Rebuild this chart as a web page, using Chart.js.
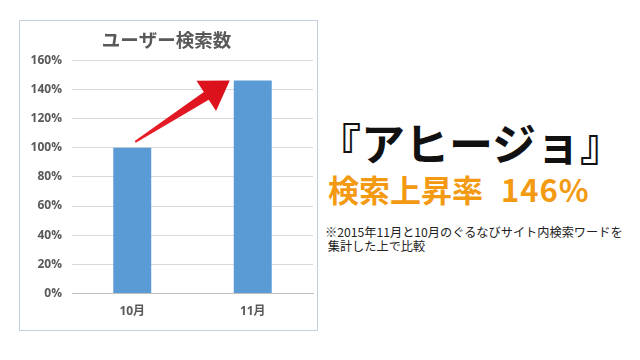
<!DOCTYPE html>
<html><head><meta charset="utf-8">
<script src="https://cdn.jsdelivr.net/npm/chart.js@4/dist/chart.umd.min.js"></script>
<style>
html,body{margin:0;padding:0;background:#fff;width:640px;height:360px;overflow:hidden;font-family:'Noto Sans CJK JP',sans-serif;}
#box{position:absolute;left:19px;top:20px;width:297px;height:309px;border:1px solid #c3d1de;}
#wrap{position:absolute;left:0;top:0;width:297px;height:309px;}
.t{position:absolute;white-space:nowrap;}
#h1{left:317px;top:117px;font-size:44px;line-height:50px;font-weight:bold;color:#111;}
#h2{left:328px;top:171px;font-size:31px;line-height:36px;font-weight:bold;color:#f39a12;}
#h2 span{margin-left:18px;letter-spacing:1px;}
#note{left:325px;top:225px;font-size:12.2px;line-height:14px;color:#222;}
</style></head>
<body>
<div id="box"><div id="wrap"><canvas id="c"></canvas></div></div>
<div class="t" id="h1">『アヒージョ』</div>
<div class="t" id="h2">検索上昇率<span>146%</span></div>
<div class="t" id="note">※2015年11月と10月のぐるなびサイト内検索ワードを<br>&nbsp;集計した上で比較</div>
<script>
const chartTitle = 'ユーザー検索数';
const categories = ['10月', '11月'];
const searchRatio = [100, 146];
const yTicks = [0, 20, 40, 60, 80, 100, 120, 140, 160];

const arrowPlugin = {
  id: 'arrow',
  afterDatasetsDraw(chart) {
    const {ctx, scales: {x, y}} = chart;
    const meta = chart.getDatasetMeta(0);
    const b2 = meta.data[1];
    const bw = b2.width;
    const x1 = x.getPixelForValue(0) + 3, y1 = y.getPixelForValue(searchRatio[0] + 4);
    const x2 = x.getPixelForValue(1) - bw / 2 - 4, y2 = y.getPixelForValue(searchRatio[1]);
    const dx = x2 - x1, dy = y2 - y1, L = Math.hypot(dx, dy);
    const ux = dx / L, uy = dy / L, nx = -uy, ny = ux;
    const hl = 28, hw = 18, sw0 = 1, sw1 = 4.5;
    const bx = x2 - ux * hl, by = y2 - uy * hl;
    ctx.save();
    const g = ctx.createLinearGradient(x1, y1, x2, y2);
    g.addColorStop(0, '#e8202a'); g.addColorStop(1, '#d90f1a');
    ctx.fillStyle = g;
    ctx.beginPath();
    ctx.moveTo(x1 + nx * sw0, y1 + ny * sw0);
    ctx.lineTo(bx + nx * sw1, by + ny * sw1);
    ctx.lineTo(bx + nx * hw, by + ny * hw);
    ctx.lineTo(x2, y2);
    ctx.lineTo(bx - nx * hw, by - ny * hw);
    ctx.lineTo(bx - nx * sw1, by - ny * sw1);
    ctx.lineTo(x1 - nx * sw0, y1 - ny * sw0);
    ctx.closePath();
    ctx.fill();
    ctx.restore();
  }
};

new Chart(document.getElementById('c'), {
  type: 'bar',
  data: {
    labels: categories,
    datasets: [{ data: searchRatio, backgroundColor: '#5b9bd5', barPercentage: 0.63, categoryPercentage: 0.5 }]
  },
  options: {
    responsive: true, maintainAspectRatio: false, animation: false,
    layout: { padding: { top: 0, right: 4, bottom: 0, left: 0 } },
    plugins: {
      legend: { display: false }, tooltip: { enabled: false },
      title: { display: true, text: chartTitle, color: '#595959',
        font: { family: "'Noto Sans CJK JP'", size: 18.5, weight: 'bold' }, padding: { top: 8, bottom: 9 } }
    },
    scales: {
      y: {
        min: 0, max: 160,
        afterBuildTicks(s) { s.ticks = yTicks.map(v => ({ value: v })); },
        afterFit(s) { s.width = 52; },
        grid: { color: '#d9d9d9', drawTicks: false },
        border: { display: false },
        ticks: { padding: 10, color: '#595959', font: { family: "'Open Sans'", size: 12, weight: 'bold' }, callback: v => v + '%' }
      },
      x: {
        grid: { display: false, drawTicks: false },
        border: { display: true, color: '#bfbfbf' },
        ticks: { padding: 11, color: '#595959', font: { family: "'Open Sans','Noto Sans CJK JP'", size: 12, weight: 'bold' } }
      }
    }
  },
  plugins: [arrowPlugin]
});
</script>
</body></html>
